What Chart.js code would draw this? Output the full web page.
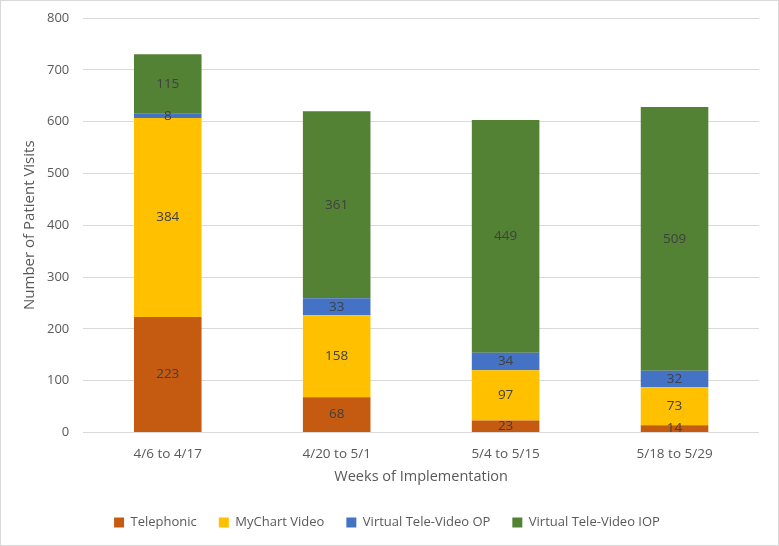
<!DOCTYPE html>
<html>
<head>
<meta charset="utf-8">
<script src="https://cdn.jsdelivr.net/npm/chart.js@4/dist/chart.umd.min.js"></script>
<style>
  html, body { margin: 0; padding: 0; background: #fff; }
  #wrap { position: absolute; left: 0; top: 0; width: 777px; height: 544px; border: 1px solid #d9d9d9; }
</style>
</head>
<body>
<div id="wrap"><canvas id="visitsChart"></canvas></div>
<script>
const weeks = ['4/6 to 4/17', '4/20 to 5/1', '5/4 to 5/15', '5/18 to 5/29'];
const telephonic = [223, 68, 23, 14];
const myChartVideo = [384, 158, 97, 73];
const teleVideoOP = [8, 33, 34, 32];
const teleVideoIOP = [115, 361, 449, 509];
const yTicks = [0, 100, 200, 300, 400, 500, 600, 700, 800];

const FONT = "'Open Sans', 'Liberation Sans', sans-serif";
const TEXT = '#595959';

// Draws the value in the middle of each bar segment
const segmentLabels = {
    id: 'segmentLabels',
    afterDatasetsDraw(chart) {
        const ctx = chart.ctx;
        ctx.save();
        ctx.font = '13.5px ' + FONT;
        ctx.fillStyle = '#404040';
        ctx.textAlign = 'center';
        ctx.textBaseline = 'middle';
        chart.data.datasets.forEach((ds, i) => {
            chart.getDatasetMeta(i).data.forEach((bar, j) => {
                const mid = (bar.y + bar.base) / 2;
                ctx.fillText(ds.data[j], bar.x, mid);
            });
        });
        ctx.restore();
    }
};

const ctx = document.getElementById('visitsChart').getContext('2d');
new Chart(ctx, {
    type: 'bar',
    data: {
        labels: weeks,
        datasets: [
            { label: 'Telephonic', data: telephonic, backgroundColor: '#c55a11' },
            { label: 'MyChart Video', data: myChartVideo, backgroundColor: '#ffc000' },
            { label: 'Virtual Tele-Video OP', data: teleVideoOP, backgroundColor: '#4472c4' },
            { label: 'Virtual Tele-Video IOP', data: teleVideoIOP, backgroundColor: '#548235' }
        ]
    },
    options: {
        responsive: true,
        maintainAspectRatio: false,
        animation: false,
        categoryPercentage: 0.4,
        barPercentage: 1,
        layout: { padding: { top: 17, right: 19, left: 14, bottom: 6 } },
        scales: {
            x: {
                stacked: true,
                grid: { display: false },
                border: { display: false },
                ticks: { color: TEXT, font: { family: FONT, size: 13.5 }, padding: 6 },
                title: { display: true, text: 'Weeks of Implementation', color: TEXT, font: { family: FONT, size: 14.5 }, padding: { top: 0, bottom: 8 } }
            },
            y: {
                stacked: true,
                min: 0,
                max: 800,
                afterBuildTicks: axis => { axis.ticks = yTicks.map(v => ({ value: v })); },
                // keep the top label from pushing the plot down
                afterFit: axis => { axis.paddingTop = 0; },
                grid: { color: '#d9d9d9', drawTicks: false },
                border: { display: false },
                ticks: { color: TEXT, font: { family: FONT, size: 13 }, padding: 14 },
                title: { display: true, text: 'Number of Patient Visits', color: TEXT, font: { family: FONT, size: 15 }, padding: { top: 6, bottom: -6 } }
            }
        },
        plugins: {
            legend: {
                position: 'bottom',
                labels: {
                    color: TEXT,
                    font: { family: FONT, size: 13 },
                    boxWidth: 10,
                    boxHeight: 10,
                    padding: 22
                }
            },
            tooltip: { enabled: false }
        }
    },
    plugins: [segmentLabels]
});
</script>
</body>
</html>
